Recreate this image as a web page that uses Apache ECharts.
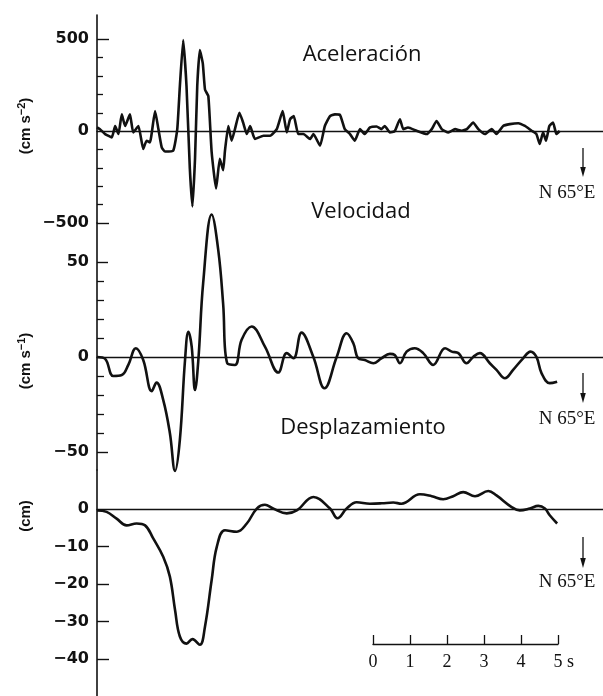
<!DOCTYPE html>
<html>
<head>
<meta charset="utf-8">
<script src="https://cdn.jsdelivr.net/npm/echarts@6/dist/echarts.min.js"></script>
<style>
  html, body { margin: 0; padding: 0; background: #fff; }
  #chart { width: 603px; height: 696px; }
</style>
</head>
<body>
<div id="chart"></div>
<script>
// time in s from start of record
var accT = [0, 0.08, 0.22, 0.4, 0.49, 0.58, 0.67, 0.76, 0.89, 0.98, 1.12, 1.25, 1.34, 1.43, 1.57, 1.66, 1.75, 1.84, 2.06, 2.17,
  2.24, 2.33, 2.42, 2.51, 2.58, 2.65, 2.71, 2.78, 2.86, 2.92, 3.01, 3.1, 3.22, 3.32, 3.41, 3.46, 3.55, 3.64, 3.73, 3.85,
  3.95, 4.05, 4.14, 4.27, 4.5, 4.68, 4.86, 5.02, 5.13, 5.22, 5.32, 5.44, 5.58, 5.76, 5.85, 6.03, 6.16, 6.3, 6.43, 6.57,
  6.7, 6.84, 6.97, 7.11, 7.24, 7.38, 7.56, 7.69, 7.78, 7.92, 8.05, 8.19, 8.28, 8.41, 8.64, 8.91, 9.05, 9.18, 9.32, 9.5,
  9.68, 9.86, 10.0, 10.17, 10.31, 10.49, 10.67, 10.8, 10.98, 11.16, 11.39, 11.57, 11.75, 11.88, 11.97, 12.06, 12.14, 12.23, 12.33, 12.42, 12.51]
var accV = [20, 10, -16, -34, 28, -16, 91, 28, 91, -7, 28, -97, -52, -61, 109, 11, -88, -111, -106, 11,
  244, 495, 244, -204, -410, -150, 244, 441, 369, 226, 190, -115, -312, -150, -213, -106, 28, -52, 11, 100,
  47, -16, 28, -43, -25, -25, 11, 109, -7, 65, 82, -16, -16, -43, -16, -79, 28, 82, 91, 88,
  11, -16, -52, 11, -16, 20, 25, 11, 28, -7, 0, 65, 11, 20, 2, -16, 11, 55, 11, -7,
  11, 2, 11, 47, 11, -16, 11, -16, 28, 38, 43, 28, 2, -16, -70, -7, -52, 28, 47, -16, 2]

var velT = [0, 0.22, 0.44, 0.67, 0.85, 1.05, 1.25, 1.48, 1.61, 1.79, 1.97, 2.11, 2.24, 2.38, 2.47, 2.56, 2.65, 2.74, 2.87, 3.1,
  3.28, 3.41, 3.52, 3.73, 3.91, 4.18, 4.54, 4.9, 5.13, 5.31, 5.53, 5.85, 6.15, 6.48, 6.75, 6.93, 7.06, 7.24, 7.47, 7.69,
  7.92, 8.05, 8.19, 8.37, 8.59, 8.82, 9.09, 9.41, 9.59, 9.77, 9.99, 10.17, 10.35, 10.62, 10.8, 11.03, 11.25, 11.52, 11.72, 11.88,
  12.02, 12.24, 12.44]
var velV = [0, -1, -10, -9.5, -4, 4.6, -1.6, -18, -13.5, -22.6, -40, -60, -43.7, -1.6, 13.3, 5.4, -17.4, -1.6, 38.8, 75,
  56, 28, -3.3, -4.2, 9, 16, 5.4, -8.2, 2, -0.7, 12.8, 0, -16.5, 0, 12.5, 7.2, -0.7, -1.6, -3.3, -0.7,
  1.6, 1, -3.3, 2.8, 4.6, 2, -4.2, 4.6, 2.8, 2, -3.3, 0, 2, -3.3, -6.8, -11.2, -6.8, -0.7, 2.8, 0,
  -8.6, -13.8, -13]

var dispT = [0, 0.26, 0.53, 0.8, 1.07, 1.3, 1.52, 1.79, 1.97, 2.11, 2.24, 2.42, 2.58, 2.78, 2.92, 3.1, 3.24, 3.46, 3.78, 4.05,
  4.32, 4.54, 4.76, 5.13, 5.4, 5.85, 6.3, 6.5, 6.75, 7.02, 7.38, 7.7, 8.01, 8.23, 8.73, 9.05, 9.36, 9.63, 9.9, 10.22,
  10.58, 10.8, 11.21, 11.43, 11.7, 11.93, 12.11, 12.24, 12.44]
var dispV = [-0.3, -0.7, -2.5, -4.3, -3.8, -4.3, -7.8, -12.7, -18, -26.9, -34, -35.9, -34.7, -36.2, -31.3, -18.9, -10, -5.6, -6, -3.8,
  0.2, 1.2, 0.2, -1.1, -0.3, 3.3, 0.2, -2.4, 0.2, 1.9, 1.5, 1.6, 1.8, 1.5, 4, 3.5, 2.7, 3.5, 4.6, 3.5,
  4.9, 3.7, 0.6, -0.3, 0.2, 0.9, 0.2, -1.6, -3.8]

var accLabels = [-500, 0, 500]
var accMinor = [-400, -300, -200, -100, 100, 200, 300, 400]
var velLabels = [-50, 0, 50]
var velMinor = [-40, -30, -20, -10, 10, 20, 30, 40]
var dispLabels = [-40, -30, -20, -10, 0]
var scaleTicks = [0, 1, 2, 3, 4, 5]

var titles = ['Aceleración', 'Velocidad', 'Desplazamiento']
var units = ['(cm s{sup|\u22122})', '(cm s{sup|\u22121})', '(cm)']
var direction = 'N 65°E'

function pairs(t, v) {
  return t.map(function (x, i) { return [x, v[i]] })
}

var ink = '#111'
var labelFont = { color: ink, fontFamily: 'DejaVu Sans', fontWeight: 'bold', fontSize: 16, margin: 8,
  formatter: function (v) { return String(v).replace('-', '\u2212') } }

function timeAxis(i) {
  return {
    type: 'value', gridIndex: i, min: 0, max: 13.68,
    axisLine: { onZero: true, lineStyle: { color: ink, width: 1.3 } },
    axisTick: { show: false }, axisLabel: { show: false }, splitLine: { show: false }
  }
}

function majorAxis(i, min, max, ticks, labels, len) {
  return {
    type: 'value', gridIndex: i, min: min, max: max, position: 'left',
    axisLine: { show: true, lineStyle: { color: ink, width: 1.6 } },
    axisTick: { show: true, inside: true, length: len, customValues: ticks, lineStyle: { color: ink, width: 1.4 } },
    axisLabel: Object.assign({ customValues: labels }, labelFont),
    splitLine: { show: false }
  }
}

function minorAxis(i, min, max, ticks, len) {
  return {
    type: 'value', gridIndex: i, min: min, max: max, position: 'left', offset: 0,
    axisLine: { show: false },
    axisTick: { show: true, inside: true, length: len, customValues: ticks, lineStyle: { color: ink, width: 1.3 } },
    axisLabel: { show: false },
    splitLine: { show: false }
  }
}

function arrow(x, y1, y2, ty) {
  return [
    { type: 'line', shape: { x1: x, y1: y1, x2: x, y2: y2 - 8 }, style: { stroke: ink, lineWidth: 1.3 } },
    { type: 'polygon', shape: { points: [[x - 2.8, y2 - 10], [x + 2.8, y2 - 10], [x, y2]] }, style: { fill: ink } },
    { type: 'text', style: { text: direction, x: 567, y: ty, align: 'center', verticalAlign: 'middle',
      font: '19px "Liberation Serif"', fill: ink } }
  ]
}

function label(txt, x, y, font, rot) {
  return { type: 'text', rotation: rot || 0, x: x, y: y,
    style: { text: txt, x: 0, y: 0, align: 'center', verticalAlign: 'middle', font: font, fill: ink } }
}

function unitLabel(txt, x, y) {
  return { type: 'text', rotation: Math.PI / 2, x: x, y: y,
    style: { text: txt, x: 0, y: 0, align: 'center', verticalAlign: 'middle', fill: ink,
      fontFamily: 'Liberation Sans', fontWeight: 'bold', fontSize: 15, lineHeight: 20,
      rich: { sup: { fontFamily: 'Liberation Sans', fontWeight: 'bold', fontSize: 11, lineHeight: 12, verticalAlign: 'top', fill: ink } } } }
}

var chart = echarts.init(document.getElementById('chart'))
var option = {
  animation: false,
  backgroundColor: '#fff',
  grid: [
    { left: 97, right: 0, top: 15, height: 208, outerBoundsMode: 'none' },
    { left: 97, right: 0, top: 223, height: 247, outerBoundsMode: 'none' },
    { left: 97, right: 0, top: 470, height: 226, outerBoundsMode: 'none' },
    { left: 373, width: 185, top: 600, height: 44, outerBoundsMode: 'none' }
  ],
  xAxis: [
    timeAxis(0), timeAxis(1), timeAxis(2),
    {
      type: 'value', gridIndex: 3, min: 0, max: 5, interval: 1,
      name: 's', nameLocation: 'end', nameGap: 9,
      nameTextStyle: { color: ink, fontFamily: 'Liberation Serif', fontSize: 18, verticalAlign: 'top', padding: [9, 0, 0, 0] },
      axisLine: { lineStyle: { color: ink, width: 1.4 } },
      axisTick: { inside: true, length: 9, customValues: scaleTicks, lineStyle: { color: ink, width: 1.3 } },
      axisLabel: { color: ink, fontFamily: 'Liberation Serif', fontSize: 18, margin: 9, customValues: scaleTicks },
      splitLine: { show: false }
    }
  ],
  yAxis: [
    majorAxis(0, -500, 632, [-500, 500], accLabels, 12),
    minorAxis(0, -500, 632, accMinor, 6),
    majorAxis(1, -59.5, 70.5, [-50, 50], velLabels, 11),
    minorAxis(1, -59.5, 70.5, velMinor, 7),
    majorAxis(2, -49.9, 10.5, [-40, -30, -20, -10], dispLabels, 12),
    { type: 'value', gridIndex: 3, show: false }
  ],
  series: [
    { type: 'line', xAxisIndex: 0, yAxisIndex: 0, data: pairs(accT, accV), showSymbol: false, clip: false,
      smooth: 0.15, lineStyle: { color: ink, width: 2.6 } },
    { type: 'line', xAxisIndex: 1, yAxisIndex: 2, data: pairs(velT, velV), showSymbol: false, clip: false,
      smooth: 0.4, lineStyle: { color: ink, width: 2.6 } },
    { type: 'line', xAxisIndex: 2, yAxisIndex: 4, data: pairs(dispT, dispV), showSymbol: false, clip: false,
      smooth: 0.4, lineStyle: { color: ink, width: 2.6 } }
  ],
  graphic: [
    label(titles[0], 362, 55, '22px "Open Sans"'),
    label(titles[1], 361, 212, '22px "Open Sans"'),
    label(titles[2], 363, 428, '22px "Open Sans"'),
    unitLabel(units[0], 26, 126),
    unitLabel(units[1], 26, 361),
    unitLabel(units[2], 26, 516)
  ].concat(arrow(583, 148, 177, 193), arrow(583, 373, 403, 419), arrow(583, 537, 568, 582))
}
chart.setOption(option)
</script>
</body>
</html>
